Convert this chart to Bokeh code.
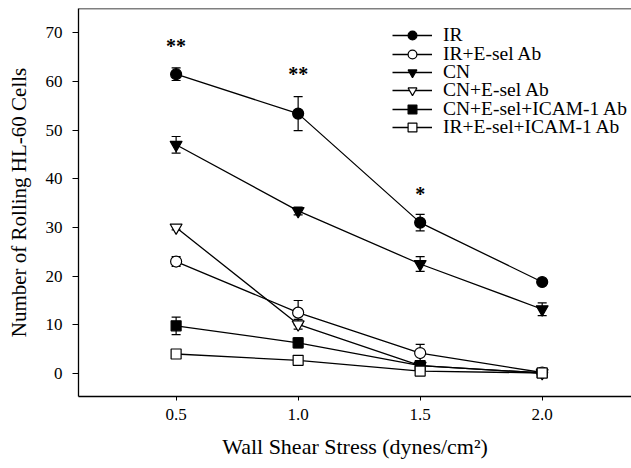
from bokeh.plotting import figure
from bokeh.models import (Whisker, TeeHead, ColumnDataSource, Legend, LegendItem,
                          Span, FixedTicker, NumeralTickFormatter, Range1d)
from bokeh.core.properties import value
from bokeh.embed import file_html
from bokeh.resources import INLINE

# ---------------- data ----------------
shear = [0.5, 1.0, 1.5, 2.0]

ir = [61.5, 53.4, 31.0, 18.8]
ir_err = [1.3, 3.5, 1.7, 0.5]

ir_esel = [23.0, 12.5, 4.2, 0.2]
ir_esel_err = [1.0, 2.5, 1.8, 0.3]

cn = [47.0, 33.4, 22.5, 13.2]
cn_err = [1.7, 0.8, 1.5, 1.3]

cn_esel = [30.0, 10.1, 1.6, 0.1]
cn_esel_err = [0.5, 1.0, 0.5, 0.2]

cn_esel_icam = [9.8, 6.3, 1.6, 0.1]
cn_esel_icam_err = [1.8, 1.0, 0.5, 0.2]

ir_esel_icam = [4.0, 2.7, 0.5, 0.1]
ir_esel_icam_err = [0.5, 0.5, 0.3, 0.2]

labels = ["IR", "IR+E-sel Ab", "CN", "CN+E-sel Ab",
          "CN+E-sel+ICAM-1 Ab", "IR+E-sel+ICAM-1 Ab"]

star_x = [0.5, 1.0, 1.5]
star_y = [67.2, 61.5, 36.8]
star_text = ["**", "**", "*"]

x_ticks = [0.5, 1.0, 1.5, 2.0]
y_ticks = [0, 10, 20, 30, 40, 50, 60, 70]

# ---------------- figure ----------------
FONT = "Liberation Serif"
FRAME_TOP, FRAME_BOTTOM = 8, 396
p = figure(width=631, height=468, output_backend="svg", toolbar_location=None,
           x_range=Range1d(0.1, 2.366), y_range=Range1d(-4.73, 75.0),
           min_border_left=78, min_border_right=0, min_border_top=FRAME_TOP,
           min_border_bottom=468 - FRAME_BOTTOM)
p.outline_line_color = None
p.grid.visible = False
p.background_fill_color = "white"
p.border_fill_color = "white"

for ax in (p.xaxis[0], p.yaxis[0]):
    ax.axis_line_color = "black"
    ax.axis_line_width = 1.3
    ax.major_tick_line_color = "black"
    ax.major_tick_line_width = 1
    ax.major_tick_in = 0
    ax.minor_tick_line_color = None
    ax.major_label_text_font = FONT
    ax.major_label_text_font_size = "17px"
    ax.major_label_text_color = "black"
    ax.axis_label_text_font = FONT
    ax.axis_label_text_font_style = "normal"
    ax.axis_label_text_color = "black"

p.xaxis.ticker = FixedTicker(ticks=x_ticks)
p.xaxis.formatter = NumeralTickFormatter(format="0.0")
p.xaxis.major_tick_out = 4
p.xaxis.major_label_standoff = 8
p.xaxis.axis_label = "Wall Shear Stress (dynes/cm\u00b2)"
p.xaxis.axis_label_standoff = 11
p.xaxis.axis_label_text_font_size = "22px"

p.yaxis.ticker = FixedTicker(ticks=y_ticks)
p.yaxis.major_tick_out = 6
p.yaxis.major_label_standoff = 10
p.yaxis.axis_label = "Number of Rolling HL-60 Cells"
p.yaxis.axis_label_standoff = 12
p.yaxis.axis_label_text_font_size = "21px"

p.add_layout(Span(location=75.0, dimension="width", line_color="black",
                  line_width=1.3))

series = [
    (ir, ir_err, "circle", 11, "black"),
    (ir_esel, ir_esel_err, "circle", 11, "white"),
    (cn, cn_err, "inverted_triangle", 12, "black"),
    (cn_esel, cn_esel_err, "inverted_triangle", 12, "white"),
    (cn_esel_icam, cn_esel_icam_err, "square", 10, "black"),
    (ir_esel_icam, ir_esel_icam_err, "square", 10, "white"),
]

# legend layout (screen pixels)
LEG_X = 314          # glyph start, relative to frame left
LEG_FIRST = 35.3     # centre of first row, from top of canvas
LEG_PITCH = 18.3
ROW_H = 22

for i, ((vals, errs, marker, size, fill), lab) in enumerate(zip(series, labels)):
    src = ColumnDataSource(dict(
        x=shear, y=vals,
        lo=[v - e for v, e in zip(vals, errs)],
        hi=[v + e for v, e in zip(vals, errs)]))
    w = Whisker(source=src, base="x", lower="lo", upper="hi",
                line_color="black", line_width=1.2,
                upper_head=TeeHead(size=9, line_color="black", line_width=1.2),
                lower_head=TeeHead(size=9, line_color="black", line_width=1.2))
    p.add_layout(w)
    ln = p.line("x", "y", source=src, line_color="black", line_width=1.3)
    sc = p.scatter("x", "y", source=src, marker=marker, size=size,
                   fill_color=fill, line_color="black", line_width=1.2)
    centre = LEG_FIRST + i * LEG_PITCH
    vy = FRAME_BOTTOM - centre - ROW_H / 2
    leg = Legend(items=[LegendItem(label=lab, renderers=[ln, sc])],
                 location=(LEG_X, vy), orientation="vertical",
                 glyph_width=40, glyph_height=ROW_H, label_height=ROW_H,
                 spacing=0, label_standoff=11, padding=0, margin=0,
                 label_text_font=FONT, label_text_font_size="19.5px",
                 label_text_color="black", label_text_baseline="middle",
                 border_line_color=None, background_fill_alpha=0)
    p.add_layout(leg)

p.text(x=star_x, y=star_y, text=star_text, text_font=value(FONT),
       text_font_size="20px", text_font_style="bold", text_align="center",
       text_baseline="middle", text_color="black")

open("out.html", "w").write(file_html(p, INLINE))
